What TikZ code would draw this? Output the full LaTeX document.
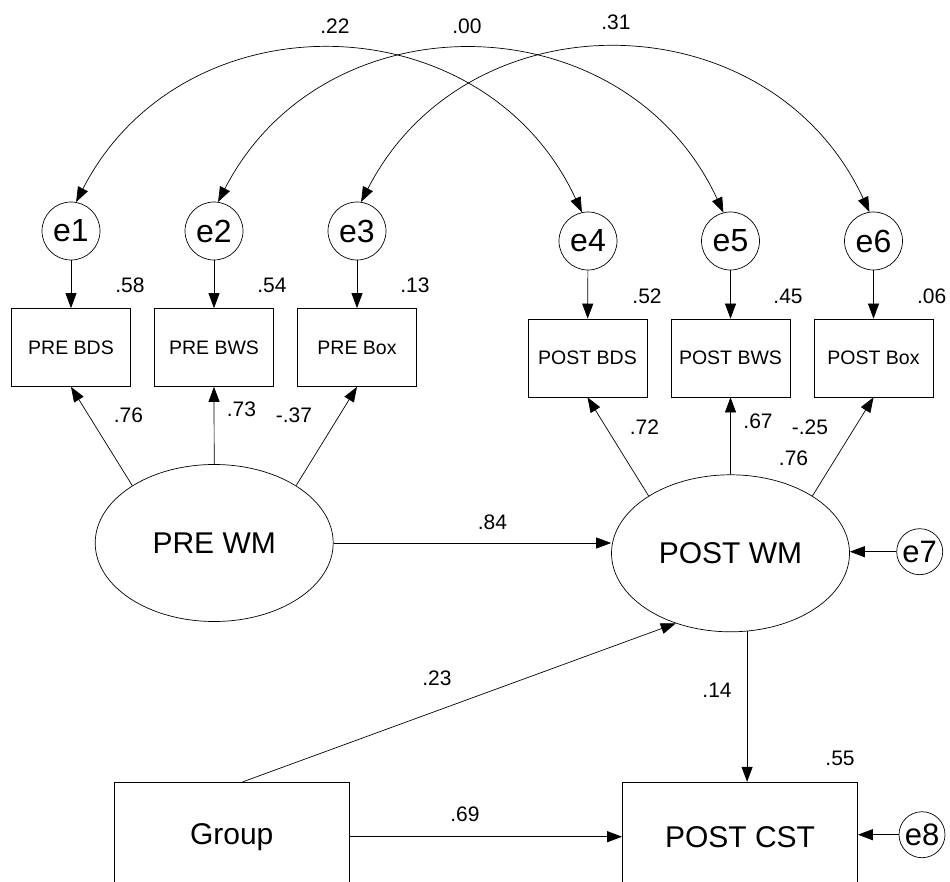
\documentclass[tikz,border=0pt]{standalone}
\usepackage{fontspec}
\setmainfont{Liberation Sans}
\usetikzlibrary{shapes.geometric,arrows.meta}
\tikzset{
  ln/.style={line width=0.7pt, black},
  arr/.style={ln, -{Triangle[length=15pt,width=11pt]}},
  darr/.style={ln, {Triangle[length=15pt,width=11pt]}-{Triangle[length=15pt,width=11pt]}},
  errbig/.style={draw, ln, circle, inner sep=0pt, minimum size=58pt, font=\fontsize{32}{36}\selectfont},
  errsmall/.style={draw, ln, circle, inner sep=0pt, minimum size=46pt, font=\fontsize{31}{36}\selectfont},
  obs/.style={draw, ln, rectangle, inner sep=0pt, minimum width=119pt, minimum height=78pt, font=\fontsize{19.5}{22}\selectfont},
  bigobs/.style={draw, ln, rectangle, inner sep=0pt, minimum width=235pt, minimum height=109pt, font=\fontsize{30}{34}\selectfont},
  lat/.style={draw, ln, ellipse, inner sep=0pt, minimum width=238pt, minimum height=157pt, font=\fontsize{30}{34}\selectfont},
  num/.style={inner sep=0pt, font=\fontsize{21}{24}\selectfont},
}
\begin{document}
\begin{tikzpicture}[x=1pt,y=-1pt]
\clip (0,0) rectangle (950,882);
\useasboundingbox (0,0) rectangle (950,882);
% error circles
\node[errbig] (e1) at (71,231) {e1};
\node[errbig] (e2) at (214,231) {e2};
\node[errbig] (e3) at (357,231) {e3};
\node[errbig] (e4) at (588,241) {e4};
\node[errbig] (e5) at (730.5,241) {e5};
\node[errbig] (e6) at (873.5,241) {e6};
% indicators
\node[obs] (prebds) at (71,347.5) {PRE BDS};
\node[obs] (prebws) at (214,347.5) {PRE BWS};
\node[obs] (prebox) at (357,347.5) {PRE Box};
\node[obs] (postbds) at (587.5,358) {POST BDS};
\node[obs] (postbws) at (730.5,358) {POST BWS};
\node[obs] (postbox) at (873.5,358) {POST Box};
% latents
\node[lat] (prewm) at (214.2,543) {PRE WM};
\node[lat] (postwm) at (730.5,553.3) {POST WM};
\node[errsmall] (e7) at (919.7,551.7) {e7};
% bottom row
\node[bigobs] (group) at (231.7,836.7) {Group};
\node[bigobs] (postcst) at (740,836.7) {POST CST};
\node[errsmall] (e8) at (922,834.7) {e8};
% covariances
\draw[darr] (e1.80) to[bend left=64, looseness=1.18] (e4.102);
\draw[darr] (e2.82) to[bend left=64, looseness=1.18] (e5.104);
\draw[darr] (e3.82) to[bend left=64, looseness=1.18] (e6.98);
% errors to indicators
\draw[arr] (e1) -- (prebds);
\draw[arr] (e2) -- (prebws);
\draw[arr] (e3) -- (prebox);
\draw[arr] (e4) -- (postbds);
\draw[arr] (e5) -- (postbws);
\draw[arr] (e6) -- (postbox);
% loadings
\draw[arr] (prewm.145) -- (prebds.south);
\draw[arr] (prewm.north) -- (prebws.south);
\draw[arr] (prewm.35) -- (prebox.south);
\draw[arr] (postwm.145) -- (postbds.south);
\draw[arr] (postwm.north) -- (postbws.south);
\draw[arr] (postwm.35) -- (postbox.south);
% structural paths
\draw[arr] (prewm.east) -- (prewm.east -| postwm.west);
\draw[arr] (e7.west) -- (e7.west -| postwm.east);
\draw[arr] ([xshift=11pt]group.north) -- (postwm.-128);
\draw[arr] (postwm.-78.7) -- (postwm.-78.7 |- postcst.north);
\draw[arr] (group.east) -- (postcst.west);
\draw[arr] (e8.west) -- (e8.west -| postcst.east);
% labels
\node[num] (c14) at (335,26) {.22};
\node[num] (c25) at (467,26) {.00};
\node[num] (c36) at (616,22) {.31};
\node[num] (r1) at (130,285) {.58};
\node[num] (r2) at (272,285) {.54};
\node[num] (r3) at (415,285) {.13};
\node[num] (r4) at (647,296) {.52};
\node[num] (r5) at (788,296) {.45};
\node[num] (r6) at (931.7,296) {.06};
\node[num] (l1) at (128.5,415) {.76};
\node[num] (l2) at (241.5,409) {.73};
\node[num] (l3) at (294,415) {-.37};
\node[num] (l4) at (644.5,427) {.72};
\node[num] (l5) at (758,421) {.67};
\node[num] (l6) at (810,427) {-.25};
\node[num] (r7) at (793.5,458) {.76};
\node[num] (b1) at (492.5,522) {.84};
\node[num] (b2) at (437,678) {.23};
\node[num] (b3) at (717,690) {.14};
\node[num] (r8) at (840,758) {.55};
\node[num] (b4) at (465,814) {.69};
\end{tikzpicture}
\end{document}
